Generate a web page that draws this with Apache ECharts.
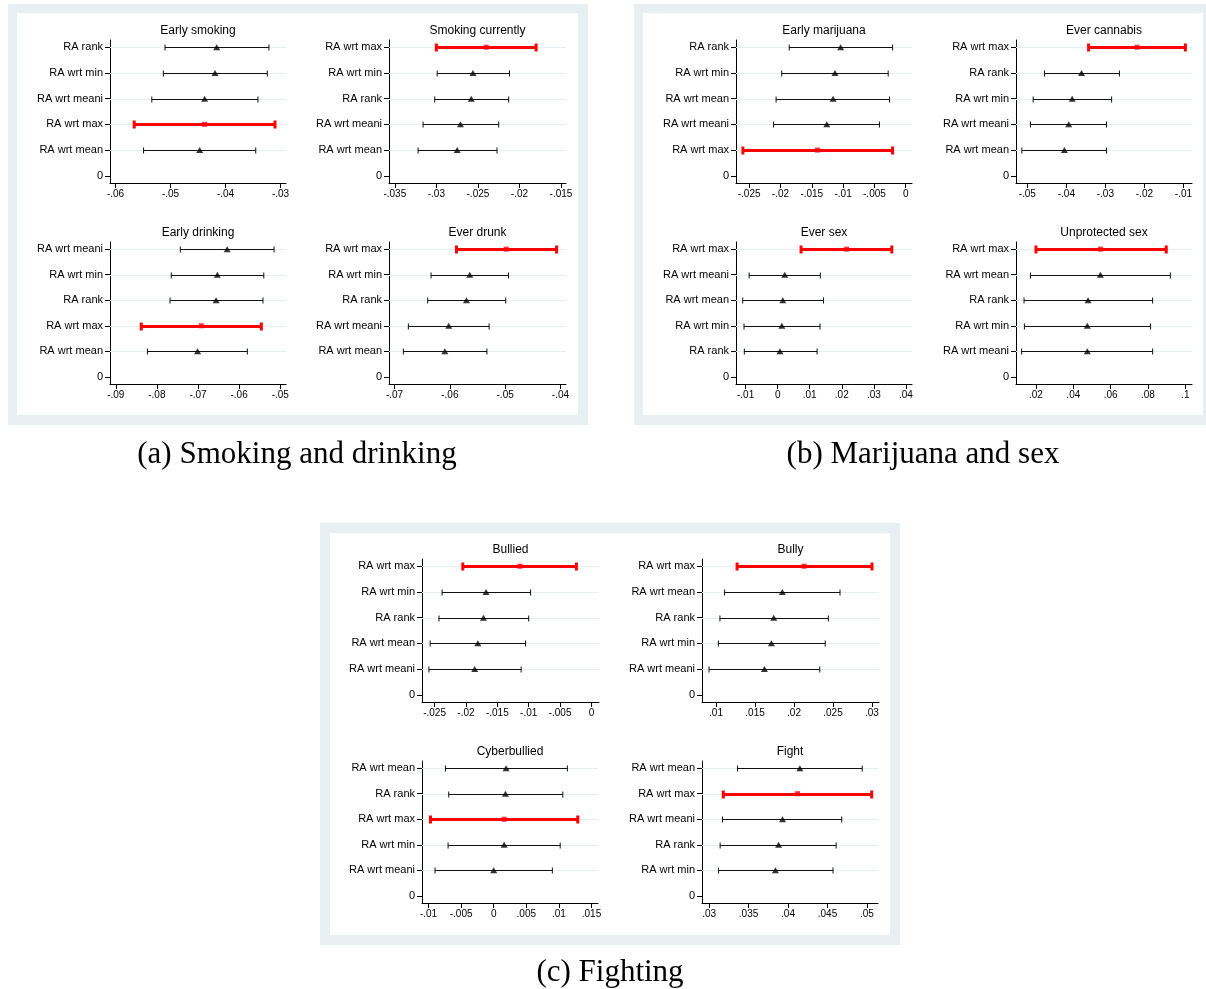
<!DOCTYPE html>
<html>
<head>
<meta charset="utf-8">
<title>Risk aversion estimates</title>
<script src="https://cdn.jsdelivr.net/npm/echarts@6/dist/echarts.min.js"></script>
<style>
  html, body { margin: 0; padding: 0; background: #ffffff; }
  #chart { width: 1206px; height: 989px; }
</style>
</head>
<body>
<div id="chart"></div>
<script>
// ---- Estimates with 95% confidence bounds, rows listed top to bottom ----
const panelTitles = ['Early smoking', 'Smoking currently', 'Early drinking', 'Ever drunk',
  'Early marijuana', 'Ever cannabis', 'Ever sex', 'Unprotected sex',
  'Bullied', 'Bully', 'Cyberbullied', 'Fight'];

const earlySmokingRows = ['RA rank', 'RA wrt min', 'RA wrt meani', 'RA wrt max', 'RA wrt mean'];
const earlySmokingEst = [-0.0416, -0.0419, -0.0438, -0.0438, -0.0447];
const earlySmokingLow = [-0.0510, -0.0513, -0.0534, -0.0566, -0.0549];
const earlySmokingHigh = [-0.0321, -0.0324, -0.0341, -0.0310, -0.0345];
const earlySmokingTicks = [-0.06, -0.05, -0.04, -0.03];

const smokingNowRows = ['RA wrt max', 'RA wrt min', 'RA rank', 'RA wrt meani', 'RA wrt mean'];
const smokingNowEst = [-0.0240, -0.0256, -0.0258, -0.0271, -0.0275];
const smokingNowLow = [-0.0300, -0.0299, -0.0302, -0.0316, -0.0322];
const smokingNowHigh = [-0.0180, -0.0212, -0.0213, -0.0225, -0.0227];
const smokingNowTicks = [-0.035, -0.03, -0.025, -0.02, -0.015];

const earlyDrinkingRows = ['RA wrt meani', 'RA wrt min', 'RA rank', 'RA wrt max', 'RA wrt mean'];
const earlyDrinkingEst = [-0.0629, -0.0653, -0.0656, -0.0692, -0.0701];
const earlyDrinkingLow = [-0.0743, -0.0765, -0.0768, -0.0838, -0.0823];
const earlyDrinkingHigh = [-0.0515, -0.0540, -0.0542, -0.0546, -0.0580];
const earlyDrinkingTicks = [-0.09, -0.08, -0.07, -0.06, -0.05];

const everDrunkRows = ['RA wrt max', 'RA wrt min', 'RA rank', 'RA wrt meani', 'RA wrt mean'];
const everDrunkEst = [-0.0498, -0.0564, -0.0570, -0.0602, -0.0609];
const everDrunkLow = [-0.0588, -0.0634, -0.0640, -0.0675, -0.0684];
const everDrunkHigh = [-0.0407, -0.0494, -0.0499, -0.0529, -0.0533];
const everDrunkTicks = [-0.07, -0.06, -0.05, -0.04];

const earlyMarijuanaRows = ['RA rank', 'RA wrt min', 'RA wrt mean', 'RA wrt meani', 'RA wrt max'];
const earlyMarijuanaEst = [-0.0104, -0.0113, -0.0116, -0.0126, -0.0141];
const earlyMarijuanaLow = [-0.0186, -0.0198, -0.0207, -0.0211, -0.0260];
const earlyMarijuanaHigh = [-0.0021, -0.0028, -0.0026, -0.0042, -0.0021];
const earlyMarijuanaTicks = [-0.025, -0.02, -0.015, -0.01, -0.005, 0];

const everCannabisRows = ['RA wrt max', 'RA rank', 'RA wrt min', 'RA wrt meani', 'RA wrt mean'];
const everCannabisEst = [-0.0219, -0.0361, -0.0385, -0.0394, -0.0405];
const everCannabisLow = [-0.0343, -0.0456, -0.0485, -0.0492, -0.0514];
const everCannabisHigh = [-0.0095, -0.0264, -0.0284, -0.0297, -0.0297];
const everCannabisTicks = [-0.05, -0.04, -0.03, -0.02, -0.01];

const everSexRows = ['RA wrt max', 'RA wrt meani', 'RA wrt mean', 'RA wrt min', 'RA rank'];
const everSexEst = [0.0215, 0.0022, 0.0016, 0.0013, 0.0007];
const everSexLow = [0.0073, -0.0089, -0.0109, -0.0105, -0.0104];
const everSexHigh = [0.0356, 0.0133, 0.0143, 0.0132, 0.0123];
const everSexTicks = [-0.01, 0, 0.01, 0.02, 0.03, 0.04];

const unprotectedRows = ['RA wrt max', 'RA wrt mean', 'RA rank', 'RA wrt min', 'RA wrt meani'];
const unprotectedEst = [0.0546, 0.0545, 0.0479, 0.0475, 0.0475];
const unprotectedLow = [0.0200, 0.0171, 0.0136, 0.0138, 0.0123];
const unprotectedHigh = [0.0898, 0.0920, 0.0825, 0.0814, 0.0825];
const unprotectedTicks = [0.02, 0.04, 0.06, 0.08, 0.1];

const bulliedRows = ['RA wrt max', 'RA wrt min', 'RA rank', 'RA wrt mean', 'RA wrt meani'];
const bulliedEst = [-0.0114, -0.0168, -0.0172, -0.0181, -0.0186];
const bulliedLow = [-0.0205, -0.0238, -0.0243, -0.0257, -0.0259];
const bulliedHigh = [-0.0024, -0.0097, -0.0100, -0.0105, -0.0112];
const bulliedTicks = [-0.025, -0.02, -0.015, -0.01, -0.005, 0];

const bullyRows = ['RA wrt max', 'RA wrt mean', 'RA rank', 'RA wrt min', 'RA wrt meani'];
const bullyEst = [0.0213, 0.0185, 0.0174, 0.0171, 0.0162];
const bullyLow = [0.0127, 0.0111, 0.0105, 0.0103, 0.0091];
const bullyHigh = [0.0300, 0.0259, 0.0244, 0.0240, 0.0233];
const bullyTicks = [0.01, 0.015, 0.02, 0.025, 0.03];

const cyberRows = ['RA wrt mean', 'RA rank', 'RA wrt max', 'RA wrt min', 'RA wrt meani'];
const cyberEst = [0.0019, 0.0018, 0.0016, 0.0016, 0.0000];
const cyberLow = [-0.0074, -0.0069, -0.0097, -0.0070, -0.0090];
const cyberHigh = [0.0113, 0.0106, 0.0129, 0.0102, 0.0090];
const cyberTicks = [-0.01, -0.005, 0, 0.005, 0.01, 0.015];

const fightRows = ['RA wrt mean', 'RA wrt max', 'RA wrt meani', 'RA rank', 'RA wrt min'];
const fightEst = [0.0415, 0.0412, 0.0393, 0.0388, 0.0384];
const fightLow = [0.0336, 0.0318, 0.0317, 0.0314, 0.0312];
const fightHigh = [0.0494, 0.0506, 0.0468, 0.0461, 0.0457];
const fightTicks = [0.03, 0.035, 0.04, 0.045, 0.05];

const yTicks = [0, 1, 2, 3, 4, 5];
const captions = ['(a) Smoking and drinking', '(b) Marijuana and sex', '(c) Fighting'];
const highlightRow = 'RA wrt max';

// ---- Layout: plot boxes [left, top, width, height] and x extents ----
const panels = [
  { rows: earlySmokingRows, est: earlySmokingEst, low: earlySmokingLow, high: earlySmokingHigh, ticks: earlySmokingTicks, xr: [-0.0610, -0.0290], box: [110, 40, 176, 143] },
  { rows: smokingNowRows, est: smokingNowEst, low: smokingNowLow, high: smokingNowHigh, ticks: smokingNowTicks, xr: [-0.0357, -0.0144], box: [389, 40, 177, 143] },
  { rows: earlyDrinkingRows, est: earlyDrinkingEst, low: earlyDrinkingLow, high: earlyDrinkingHigh, ticks: earlyDrinkingTicks, xr: [-0.0914, -0.0486], box: [110, 242, 176, 142] },
  { rows: everDrunkRows, est: everDrunkEst, low: everDrunkLow, high: everDrunkHigh, ticks: everDrunkTicks, xr: [-0.0710, -0.0390], box: [389, 242, 177, 142] },
  { rows: earlyMarijuanaRows, est: earlyMarijuanaEst, low: earlyMarijuanaLow, high: earlyMarijuanaHigh, ticks: earlyMarijuanaTicks, xr: [-0.0271, 0.0010], box: [736, 40, 176, 143] },
  { rows: everCannabisRows, est: everCannabisEst, low: everCannabisLow, high: everCannabisHigh, ticks: everCannabisTicks, xr: [-0.0529, -0.0078], box: [1016, 40, 176, 143] },
  { rows: everSexRows, est: everSexEst, low: everSexLow, high: everSexHigh, ticks: everSexTicks, xr: [-0.0130, 0.0419], box: [736, 242, 176, 142] },
  { rows: unprotectedRows, est: unprotectedEst, low: unprotectedLow, high: unprotectedHigh, ticks: unprotectedTicks, xr: [0.0093, 0.1036], box: [1016, 242, 176, 142] },
  { rows: bulliedRows, est: bulliedEst, low: bulliedLow, high: bulliedHigh, ticks: bulliedTicks, xr: [-0.0270, 0.0012], box: [422, 559, 177, 143] },
  { rows: bullyRows, est: bullyEst, low: bullyLow, high: bullyHigh, ticks: bullyTicks, xr: [0.0082, 0.0309], box: [702, 559, 177, 143] },
  { rows: cyberRows, est: cyberEst, low: cyberLow, high: cyberHigh, ticks: cyberTicks, xr: [-0.0110, 0.0160], box: [422, 761, 176, 142] },
  { rows: fightRows, est: fightEst, low: fightLow, high: fightHigh, ticks: fightTicks, xr: [0.0291, 0.0514], box: [702, 761, 176, 142] }
];

const INK = '#111111';
const RED = '#ff0000';
const GRIDLINE = '#e6eef1';
const FRAME = '#e8eff2';
const SANS = '"Liberation Sans", Arial, sans-serif';
const SERIF = '"Liberation Serif", "Times New Roman", serif';

// Axis labels without leading zero: -0.05 -> "-.05", 0.1 -> ".1"
function shortNum(v) {
  if (Math.abs(v) < 1e-12) return '0';
  const s = String(parseFloat(v.toFixed(6)));
  return s.replace(/^(-?)0\./, '$1.');
}

// Horizontal interval with end caps, plus the row's light grid line behind it
function renderInterval(params, api) {
  const cs = params.coordSys;
  const a = api.coord([api.value(0), api.value(2)]);
  const b = api.coord([api.value(1), api.value(2)]);
  const hot = api.value(3) === 1;
  const y = Math.round(a[1]) + 0.5;
  const stroke = hot ? RED : INK;
  const w = hot ? 3 : 1;
  const cap = hot ? 4 : 3;
  return {
    type: 'group',
    children: [
      { type: 'line', shape: { x1: cs.x, y1: y, x2: cs.x + cs.width, y2: y }, style: { stroke: GRIDLINE, lineWidth: 1 } },
      { type: 'line', shape: { x1: a[0], y1: y, x2: b[0], y2: y }, style: { stroke: stroke, lineWidth: w } },
      { type: 'line', shape: { x1: a[0], y1: y - cap, x2: a[0], y2: y + cap }, style: { stroke: stroke, lineWidth: w } },
      { type: 'line', shape: { x1: b[0], y1: y - cap, x2: b[0], y2: y + cap }, style: { stroke: stroke, lineWidth: w } }
    ]
  };
}

const grids = [], xAxes = [], yAxes = [], series = [], graphics = [];

// Light frames behind the three groups of panels
[[8, 4, 580, 421], [634, 4, 572, 421], [320, 523, 580, 422]].forEach(function (r) {
  graphics.push({ type: 'rect', z: -10, shape: { x: r[0], y: r[1], width: r[2], height: r[3] }, style: { fill: FRAME } });
});
[[17, 13, 561, 402], [643, 13, 560, 402], [330, 533, 560, 402]].forEach(function (r) {
  graphics.push({ type: 'rect', z: -9, shape: { x: r[0], y: r[1], width: r[2], height: r[3] }, style: { fill: '#ffffff' } });
});

// Captions under each group
[[297, 455], [923, 455], [610, 973]].forEach(function (p, i) {
  graphics.push({ type: 'text', x: p[0], y: p[1], style: { text: captions[i], font: '31px ' + SERIF, fill: '#000', align: 'center', verticalAlign: 'middle' } });
});

panels.forEach(function (p, i) {
  const [left, top, width, height] = p.box;
  grids.push({ left: left, top: top, width: width, height: height, containLabel: false });

  graphics.push({ type: 'text', x: left + width / 2, y: top - 9.5, style: { text: panelTitles[i], font: '12px ' + SANS, fill: '#000', align: 'center', verticalAlign: 'middle' } });

  xAxes.push({
    gridIndex: i, type: 'value', min: p.xr[0], max: p.xr[1],
    axisLine: { show: true, onZero: false, lineStyle: { color: '#000', width: 1 } },
    axisTick: { show: true, length: 5, customValues: p.ticks, lineStyle: { color: '#000' } },
    axisLabel: { customValues: p.ticks, formatter: shortNum, fontSize: 10, color: '#000', margin: 6, fontFamily: SANS },
    splitLine: { show: false }
  });

  const rows = p.rows;
  yAxes.push({
    gridIndex: i, type: 'value', min: -0.28, max: 5.28,
    axisLine: { show: true, onZero: false, lineStyle: { color: '#000', width: 1 } },
    axisTick: { show: true, length: 5, customValues: yTicks, lineStyle: { color: '#000' } },
    axisLabel: {
      customValues: yTicks, fontSize: 11, color: '#000', margin: 7, fontFamily: SANS,
      formatter: function (v) { const k = Math.round(v); return k === 0 ? '0' : rows[5 - k]; }
    },
    splitLine: { show: false }
  });

  const bars = rows.map(function (name, k) {
    return [p.low[k], p.high[k], 5 - k, name === highlightRow ? 1 : 0];
  });
  series.push({
    type: 'custom', xAxisIndex: i, yAxisIndex: i, z: 2, silent: true, clip: false,
    renderItem: renderInterval, encode: { x: [0, 1], y: 2 }, data: bars
  });

  const points = rows.map(function (name, k) {
    const hot = name === highlightRow;
    return {
      value: [p.est[k], 5 - k],
      symbol: hot ? 'rect' : 'triangle',
      symbolSize: hot ? [5, 5] : [7, 6],
      itemStyle: { color: hot ? RED : '#000' }
    };
  });
  series.push({ type: 'scatter', xAxisIndex: i, yAxisIndex: i, z: 3, silent: true, data: points });
});

const chart = echarts.init(document.getElementById('chart'), null, { renderer: 'canvas' });
chart.setOption({
  animation: false,
  backgroundColor: '#ffffff',
  grid: grids,
  xAxis: xAxes,
  yAxis: yAxes,
  series: series,
  graphic: graphics
});
</script>
</body>
</html>
